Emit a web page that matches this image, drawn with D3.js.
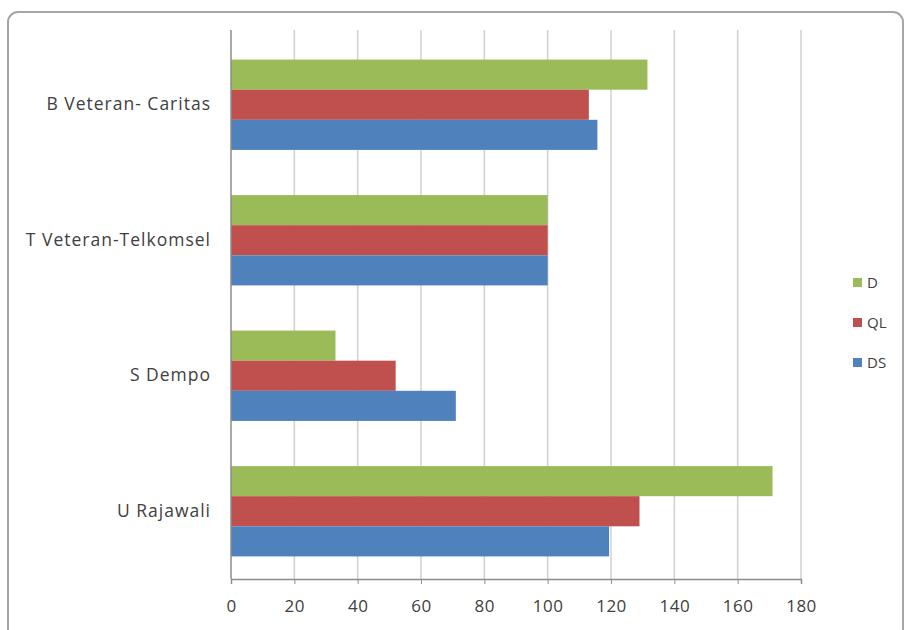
<!DOCTYPE html>
<html><head><meta charset="utf-8">
<script src="https://cdn.jsdelivr.net/npm/d3@7"></script>
<style>body{margin:0;background:#fff}svg{display:block}</style>
</head><body>
<script>
const categories = ["B Veteran- Caritas", "T Veteran-Telkomsel", "S Dempo", "U Rajawali"];
const seriesNames = ["D", "QL", "DS"];
const seriesColors = ["#9BBB59", "#C0504D", "#4F81BD"];
const valuesD  = [131.5, 100, 33, 171];
const valuesQL = [113, 100, 52, 129];
const valuesDS = [115.7, 100, 71, 119.4];
const xTicks = [0, 20, 40, 60, 80, 100, 120, 140, 160, 180];

(function () {
const W = 906, H = 630;
const FONT = "Open Sans, sans-serif";
const svg = d3.select("body").append("svg").attr("width", W).attr("height", H);

svg.append("rect").attr("x", 8).attr("y", 12).attr("width", 895).attr("height", 650)
  .attr("rx", 10).attr("fill", "#fff").attr("stroke", "#a6a6a6").attr("stroke-width", 2);

const pLeft = 231, pRight = 801, pTop = 37, pBottom = 579, gridTop = 30;
const x = d3.scaleLinear().domain([0, 180]).range([pLeft, pRight]);
const y = d3.scaleBand().domain(categories).range([pTop, pBottom]).paddingInner(0.3333).paddingOuter(0.1667);
const yS = d3.scaleBand().domain(seriesNames).range([0, y.bandwidth()]);

svg.append("g").selectAll("line").data(xTicks.slice(1)).join("line")
  .attr("x1", d => x(d)).attr("x2", d => x(d)).attr("y1", gridTop).attr("y2", pBottom)
  .attr("stroke", "#d0d0d0").attr("stroke-width", 1.5);

const data = [valuesD, valuesQL, valuesDS];
seriesNames.forEach((s, si) => {
  svg.append("g").selectAll("rect").data(categories).join("rect")
    .attr("x", x(0))
    .attr("y", c => y(c) + yS(s))
    .attr("width", (c, i) => x(data[si][i]) - x(0))
    .attr("height", yS.bandwidth())
    .attr("fill", seriesColors[si]);
});

const xAxis = d3.axisBottom(x).tickValues(xTicks).tickSize(5).tickPadding(16);
const gx = svg.append("g").attr("transform", `translate(0,${pBottom})`).call(xAxis);
gx.select(".domain").attr("stroke", "#8c8c8c").attr("stroke-width", 1.5);
gx.selectAll(".tick line").attr("stroke", "#8c8c8c");
gx.selectAll("text").attr("font-family", FONT).attr("font-size", 17).attr("letter-spacing", 0.5).attr("fill", "#404040");

const yAxis = d3.axisLeft(y).tickSize(0).tickPadding(20);
const gy = svg.append("g").attr("transform", `translate(${pLeft},0)`).call(yAxis);
gy.select(".domain").attr("stroke", "#8c8c8c").attr("stroke-width", 1.5).attr("d", `M0,${gridTop}V${pBottom}`);
gy.selectAll("text").attr("font-family", FONT).attr("font-size", 17.5).attr("letter-spacing", 1).attr("fill", "#404040");

const lg = svg.append("g");
seriesNames.forEach((s, i) => {
  const ly = 283 + i * 40;
  lg.append("rect").attr("x", 853).attr("y", ly - 5).attr("width", 9).attr("height", 9).attr("fill", seriesColors[i]);
  lg.append("text").attr("x", 867).attr("y", ly).attr("dy", "0.35em")
    .attr("font-family", FONT).attr("font-size", 15).attr("fill", "#404040").text(s);
});
})();
</script>
</body></html>
